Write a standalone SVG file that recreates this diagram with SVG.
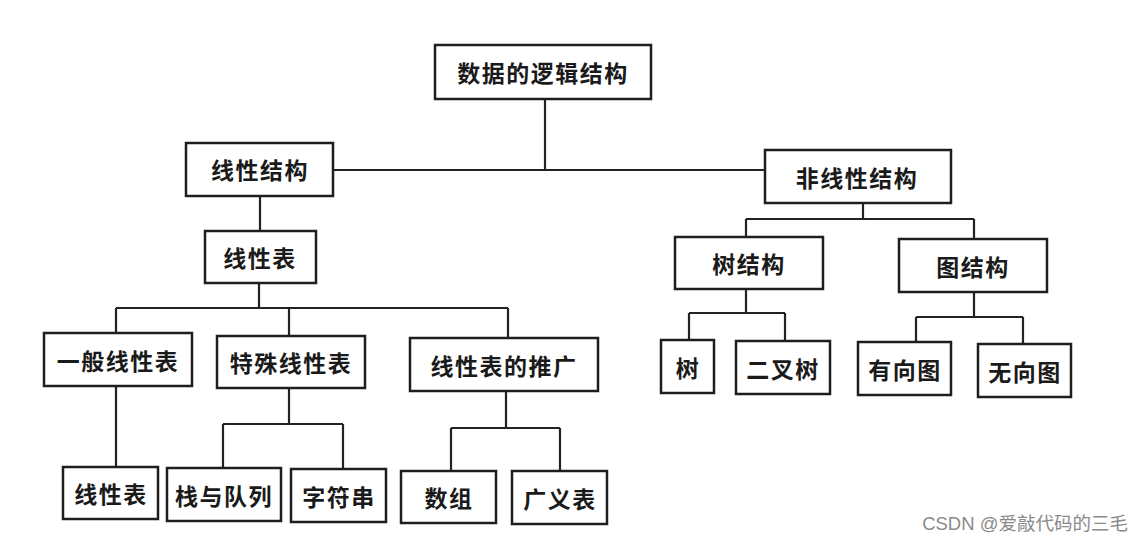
<svg xmlns="http://www.w3.org/2000/svg" width="1145" height="543" viewBox="0 0 1145 543">
<style>
.box{fill:#fff;stroke:#1e1e1e;stroke-width:2.5}
.t{font-family:"Noto Sans CJK SC","Noto Sans CJK JP",sans-serif;font-size:23px;font-weight:bold;fill:#1a1a1a;text-anchor:middle;dominant-baseline:central;letter-spacing:1.5px}
.c{fill:none;stroke:#222;stroke-width:2.2}
.wm{font-family:"Liberation Sans","Noto Sans CJK SC",sans-serif;font-size:18.5px;fill:#8a8a8a;text-anchor:end}
</style>
<rect width="1145" height="543" fill="#fff"/>
<g id="connectors">
<path class="c" d="M545 99V170M333 170H765"/>
<path class="c" d="M260 196V231"/>
<path class="c" d="M259 283V308M116 308H508M116 308V333M289 308V336M508 308V338"/>
<path class="c" d="M116 386V467"/>
<path class="c" d="M289 388V424M223 424H343M223 424V468M343 424V469"/>
<path class="c" d="M506 391V428M451 428H560M451 428V471M560 428V471"/>
<path class="c" d="M863 203V219M746 219H974M746 219V237M974 219V239"/>
<path class="c" d="M746 289V313M689 313H785M689 313V340M785 313V341"/>
<path class="c" d="M974 292V317M916 317H1023M916 317V342M1023 317V344"/>
</g>
<g id="n_root"><rect class="box" x="435" y="45" width="216" height="54"/><text class="t" x="543" y="72">数据的逻辑结构</text></g>
<g id="n_linear"><rect class="box" x="186" y="143" width="147" height="53"/><text class="t" x="260" y="169">线性结构</text></g>
<g id="n_nonlinear"><rect class="box" x="765" y="150" width="186" height="53"/><text class="t" x="857" y="177">非线性结构</text></g>
<g id="n_list"><rect class="box" x="205" y="231" width="111" height="52"/><text class="t" x="260" y="257">线性表</text></g>
<g id="n_general"><rect class="box" x="44" y="333" width="148" height="53"/><text class="t" x="118" y="360">一般线性表</text></g>
<g id="n_special"><rect class="box" x="217" y="336" width="148" height="52"/><text class="t" x="291" y="362">特殊线性表</text></g>
<g id="n_ext"><rect class="box" x="410" y="338" width="188" height="53"/><text class="t" x="504" y="365">线性表的推广</text></g>
<g id="n_list2"><rect class="box" x="63" y="467" width="95" height="52"/><text class="t" x="111" y="493">线性表</text></g>
<g id="n_stack"><rect class="box" x="167" y="468" width="114" height="53"/><text class="t" x="224" y="495">栈与队列</text></g>
<g id="n_string"><rect class="box" x="291" y="469" width="95" height="53"/><text class="t" x="339" y="496">字符串</text></g>
<g id="n_array"><rect class="box" x="401" y="471" width="95" height="52"/><text class="t" x="449" y="497">数组</text></g>
<g id="n_glist"><rect class="box" x="512" y="471" width="95" height="53"/><text class="t" x="560" y="498">广义表</text></g>
<g id="n_tree"><rect class="box" x="675" y="237" width="148" height="52"/><text class="t" x="749" y="263">树结构</text></g>
<g id="n_graph"><rect class="box" x="899" y="239" width="148" height="53"/><text class="t" x="973" y="266">图结构</text></g>
<g id="n_t1"><rect class="box" x="661" y="340" width="53" height="53"/><text class="t" x="688" y="367">树</text></g>
<g id="n_t2"><rect class="box" x="736" y="341" width="94" height="53"/><text class="t" x="783" y="368">二叉树</text></g>
<g id="n_g1"><rect class="box" x="858" y="342" width="93" height="53"/><text class="t" x="905" y="369">有向图</text></g>
<g id="n_g2"><rect class="box" x="978" y="344" width="93" height="53"/><text class="t" x="1025" y="371">无向图</text></g>
<text class="wm" x="1128" y="530">CSDN @爱敲代码的三毛</text>
</svg>
